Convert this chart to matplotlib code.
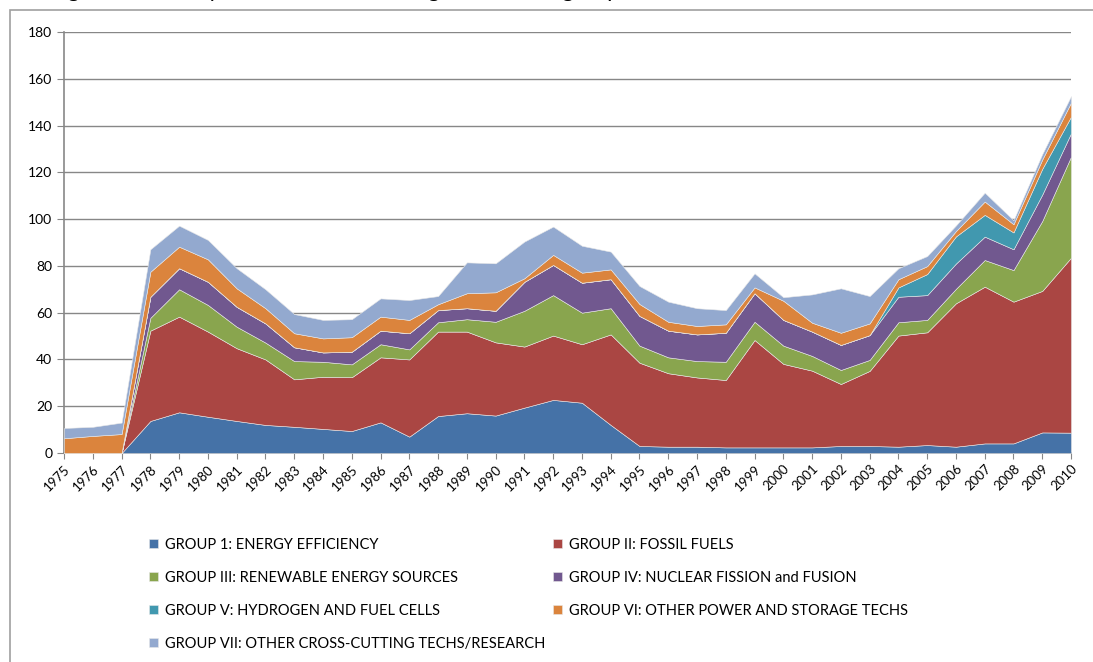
import matplotlib.pyplot as plt
from matplotlib.patches import Rectangle

plt.rcParams['font.family'] = ['Lato', 'DejaVu Sans']

years = list(range(1975, 2011))

# values, Mln EUR
g1_efficiency = [0, 0, 0, 13.7, 17.4, 15.5, 13.7, 12.0, 11.2, 10.3, 9.4, 13.1,
                 7.0, 15.8, 17.0, 16.0, 19.4, 22.7, 21.5, 12.0, 3.0, 2.7, 2.7, 2.4,
                 2.4, 2.4, 2.4, 3.0, 3.0, 2.7, 3.4, 2.7, 4.1, 4.1, 8.8, 8.7]
g2_fossil = [0, 0, 0, 38.6, 40.9, 36.4, 31.1, 28.0, 20.3, 22.3, 23.0, 27.8,
             33.0, 36.1, 34.9, 31.3, 26.1, 27.5, 25.0, 38.7, 35.6, 31.4, 29.6, 28.8,
             45.9, 35.7, 32.8, 26.5, 32.1, 47.5, 48.2, 61.3, 67.0, 60.6, 60.5, 74.8]
g3_renewable = [0, 0, 0, 5.5, 11.7, 11.4, 9.2, 7.2, 7.8, 6.4, 5.5, 5.6,
                4.3, 4.0, 5.3, 8.8, 15.3, 17.3, 13.5, 11.2, 7.3, 6.8, 7.0, 7.8,
                7.8, 7.8, 6.3, 6.0, 4.7, 5.7, 5.3, 6.2, 11.4, 13.5, 29.9, 43.2]
g4_nuclear = [0, 0, 0, 9.0, 9.0, 9.9, 8.5, 8.2, 5.9, 4.0, 5.4, 5.8,
              6.9, 5.2, 4.7, 4.7, 12.4, 12.9, 12.8, 12.4, 12.7, 11.4, 11.4, 12.4,
              12.2, 11.0, 10.4, 10.7, 10.6, 10.9, 10.6, 10.8, 10.0, 8.9, 11.3, 10.0]
g5_hydrogen = [0, 0, 0, 0, 0, 0, 0, 0, 0, 0, 0, 0,
               0, 0, 0, 0, 0, 0, 0, 0, 0, 0, 0, 0,
               0, 0, 0, 0, 0, 4.0, 9.0, 11.6, 9.3, 7.2, 11.0, 7.1]
g6_storage = [6.3, 7.3, 8.1, 10.7, 9.2, 9.6, 7.9, 6.5, 6.0, 6.0, 6.2, 6.0,
              5.7, 2.5, 6.4, 7.9, 1.5, 4.3, 4.3, 4.2, 5.1, 3.8, 3.6, 3.6,
              2.5, 8.2, 3.8, 5.2, 5.0, 3.5, 3.4, 2.3, 5.7, 3.5, 4.0, 6.0]
g7_crosscut = [4.4, 3.9, 4.9, 9.6, 9.0, 8.3, 8.6, 8.1, 8.2, 7.9, 7.7, 7.8,
               8.5, 3.5, 13.2, 12.4, 15.7, 12.1, 11.5, 7.6, 7.7, 8.6, 7.6, 6.1,
               6.0, 1.5, 12.1, 19.0, 11.7, 4.7, 4.3, 2.4, 3.8, 1.7, 2.3, 2.8]

labels = ['GROUP 1: ENERGY EFFICIENCY',
          'GROUP II: FOSSIL FUELS',
          'GROUP III: RENEWABLE ENERGY SOURCES',
          'GROUP IV: NUCLEAR FISSION and FUSION',
          'GROUP V: HYDROGEN AND FUEL CELLS',
          'GROUP VI: OTHER POWER AND STORAGE TECHS',
          'GROUP VII: OTHER CROSS-CUTTING TECHS/RESEARCH']
colors = ['#4572A7', '#AA4643', '#89A54E', '#71588F',
          '#4198AF', '#DB843D', '#93A9CF']


def main():
    fig = plt.figure(figsize=(10.93, 6.62), dpi=100)
    ax = fig.add_axes([0.0586, 0.3157, 0.9213, 0.636])

    series = [g1_efficiency, g2_fossil, g3_renewable, g4_nuclear,
              g5_hydrogen, g6_storage, g7_crosscut]
    polys = ax.stackplot(years, series, colors=colors, labels=labels,
                         edgecolor='#e8e8e8', linewidth=0.4, zorder=3)

    ax.set_xlim(1975, 2010)
    ax.set_ylim(0, 180)
    ax.set_yticks(range(0, 181, 20))
    ax.set_xticks(years)
    ax.set_xticklabels([str(y) for y in years], rotation=45, ha='right',
                       rotation_mode='anchor', fontsize=9.5)
    ax.tick_params(axis='y', labelsize=10, length=5, color='#878787')
    ax.tick_params(axis='x', length=4, color='#878787', pad=3)
    ax.yaxis.grid(True, color='#878787', linewidth=1)
    ax.set_axisbelow(True)
    for side in ['top', 'right']:
        ax.spines[side].set_visible(False)
    for side in ['left', 'bottom']:
        ax.spines[side].set_color('#878787')
        ax.spines[side].set_linewidth(1.2)

    # legend row by row like the original (matplotlib fills by column)
    order = [0, 2, 4, 6, 1, 3, 5]
    ax.legend([polys[i] for i in order], [labels[i] for i in order],
              ncol=2, loc='upper left', bbox_to_anchor=(0.079, -0.188),
              frameon=False, fontsize=10.5, handlelength=0.6, handleheight=0.6,
              handletextpad=0.5, columnspacing=0.5, labelspacing=1.3,
              borderaxespad=0)

    # chart border and cut title at the top
    fig.patches.append(Rectangle((10 / 1093, -0.1), 1.2, 1.1 - 10 / 662,
                                 transform=fig.transFigure, fill=False,
                                 edgecolor='#a0a0a0', linewidth=1.2))
    fig.text(50 / 1093, 1.0 + 3 / 662,
             'Figure 8: Norway, IEA total RD&D budgets for main groups, '
             '1975-2010 in Mln EUR', fontsize=16, va='baseline')

    fig.savefig('out.png', dpi=100)


if __name__ == '__main__':
    main()
